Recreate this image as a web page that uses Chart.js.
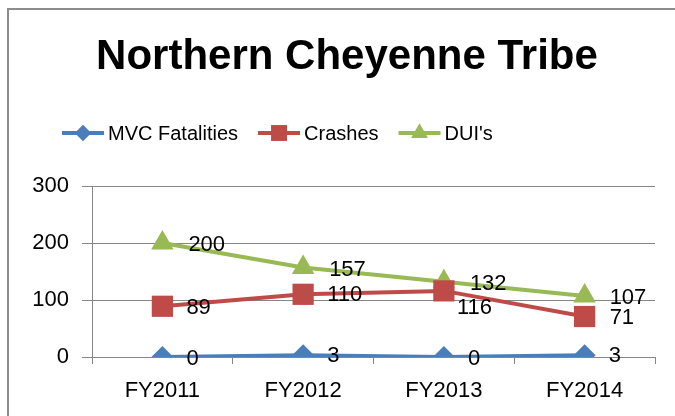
<!DOCTYPE html>
<html lang="en">
<head>
  <meta charset="UTF-8" />
  <title>Northern Cheyenne Tribe</title>
  <script src="https://cdn.jsdelivr.net/npm/chart.js"></script>
  <style>
    * { box-sizing: border-box; }
    body { margin: 0; background: #fff; overflow: hidden; }
    .frame {
      position: absolute; left: 7px; top: 8px;
      width: 720px; height: 460px;
      border: 2px solid #8c8c8c;
    }
    .wrap { position: absolute; left: 0; top: 0; width: 675px; height: 416px; }
  </style>
</head>
<body>
  <div class="frame"></div>
  <div class="wrap"><canvas id="chart" width="675" height="416"></canvas></div>
  <script>
    const categories = ['FY2011', 'FY2012', 'FY2013', 'FY2014'];
    const mvcFatalities = [0, 3, 0, 3];
    const crashes = [89, 110, 116, 71];
    const duis = [200, 157, 132, 107];
    const yMin = 0, yMax = 300, yStep = 100;

    const FONT = "'Liberation Sans', Arial, sans-serif";

    // title + excel style legend (line with marker)
    const headerPlugin = {
      id: 'header',
      afterDraw(chart) {
        const ctx = chart.ctx;
        ctx.save();
        ctx.fillStyle = '#000';
        ctx.font = 'bold 42px ' + FONT;
        ctx.textAlign = 'center';
        ctx.textBaseline = 'middle';
        ctx.fillText('Northern Cheyenne Tribe', 347, 57);

        ctx.font = '20px ' + FONT;
        ctx.textAlign = 'left';
        let x = 62;
        const y = 133;
        chart.data.datasets.forEach(ds => {
          ctx.strokeStyle = ds.borderColor;
          ctx.lineWidth = 4;
          ctx.beginPath();
          ctx.moveTo(x, y);
          ctx.lineTo(x + 42, y);
          ctx.stroke();
          ctx.fillStyle = ds.backgroundColor;
          Chart.helpers.drawPoint(ctx, {
            pointStyle: ds.pointStyle, radius: ds.pointRadius * 0.75,
            rotation: 0, borderWidth: 0
          }, x + 21, y);
          ctx.fillStyle = '#000';
          ctx.fillText(ds.label, x + 46, y + 1);
          x += 46 + ctx.measureText(ds.label).width + 20;
        });
        ctx.restore();
      }
    };

    // value labels right of each point
    const valueLabels = {
      id: 'valueLabels',
      afterDatasetsDraw(chart, args, opts) {
        const ctx = chart.ctx;
        ctx.save();
        ctx.font = '22px ' + FONT;
        ctx.fillStyle = '#000';
        ctx.textAlign = 'left';
        ctx.textBaseline = 'middle';
        chart.data.datasets.forEach((ds, i) => {
          const meta = chart.getDatasetMeta(i);
          meta.data.forEach((pt, j) => {
            const off = (opts.offsets[i] && opts.offsets[i][j]) || [24, 1];
            ctx.fillText(String(ds.data[j]), pt.x + off[0], pt.y + off[1]);
          });
        });
        ctx.restore();
      }
    };

    new Chart(document.getElementById('chart'), {
      type: 'line',
      data: {
        labels: categories,
        datasets: [
          {
            label: 'MVC Fatalities', data: mvcFatalities,
            borderColor: '#4A7EBB', backgroundColor: '#4A7EBB',
            pointStyle: 'rectRot', pointRadius: 11
          },
          {
            label: 'Crashes', data: crashes,
            borderColor: '#BE4B48', backgroundColor: '#BE4B48',
            pointStyle: 'rect', pointRadius: 15
          },
          {
            label: "DUI's", data: duis,
            borderColor: '#98B954', backgroundColor: '#98B954',
            pointStyle: 'triangle', pointRadius: 13
          }
        ]
      },
      options: {
        responsive: false,
        animation: false,
        layout: { padding: { top: 186, right: 20, left: 0, bottom: 0 } },
        elements: {
          line: { borderWidth: 4, tension: 0 },
          point: { borderWidth: 0, hoverRadius: 11 }
        },
        plugins: {
          legend: { display: false },
          title: { display: false },
          tooltip: { enabled: false },
          valueLabels: {
            offsets: [
              [[24, 2], [24, 1], [24, 2], [24, 1]],
              [[24, 2], [24, 1], [13, 17], [25, 1]],
              [[26, 2], [26, 2], [26, 2], [25, 2]]
            ]
          }
        },
        scales: {
          x: {
            offset: true,
            grid: { offset: true, drawOnChartArea: false, drawTicks: true, tickLength: 7, color: '#868686' },
            border: { color: '#868686', width: 1 },
            ticks: { color: '#000', font: { family: FONT, size: 22 }, padding: 14, maxRotation: 0 },
            afterFit(scale) { scale.height = 59; }
          },
          y: {
            min: yMin, max: yMax,
            ticks: { stepSize: yStep, color: '#000', font: { family: FONT, size: 22 }, padding: 13 },
            grid: { color: '#868686', tickLength: 10 },
            border: { color: '#868686', width: 1 },
            afterFit(scale) { scale.width = 92; }
          }
        }
      },
      plugins: [headerPlugin, valueLabels]
    });
  </script>
</body>
</html>
